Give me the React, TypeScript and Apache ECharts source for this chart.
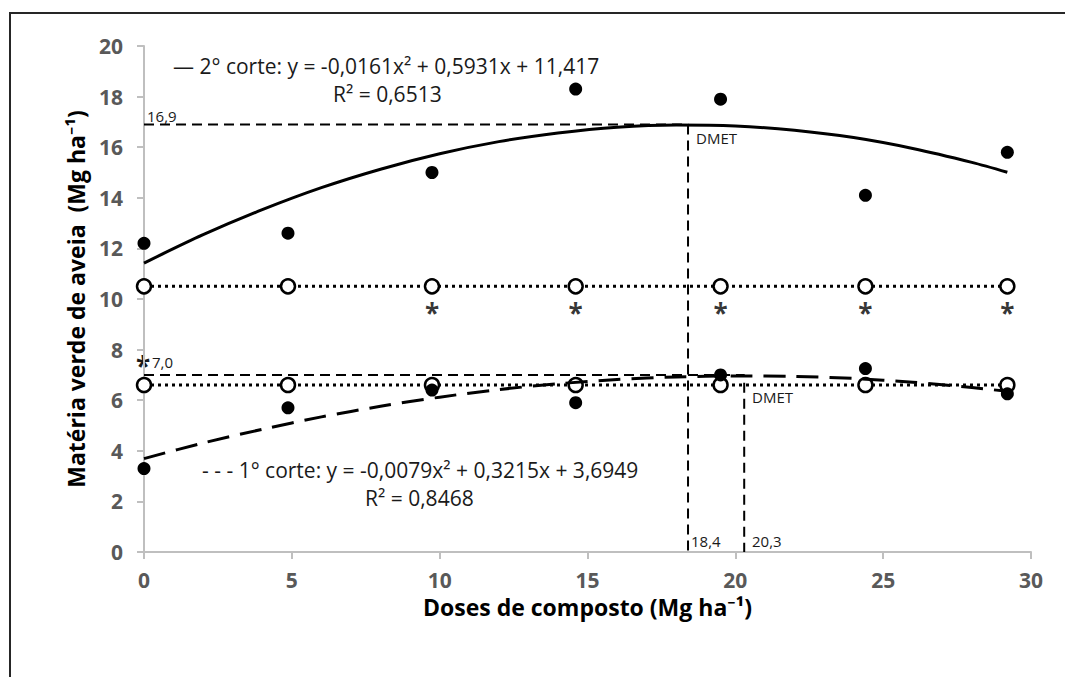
import React, { useEffect, useRef } from 'react';
import * as echarts from 'echarts';

const FONT = "'Open Sans', 'Noto Sans', sans-serif";

const doses = [0, 4.87, 9.74, 14.6, 19.5, 24.4, 29.2];
const corte2 = [12.2, 12.6, 15.0, 18.3, 17.9, 14.1, 15.8];
const corte1 = [3.3, 5.7, 6.4, 5.9, 7.0, 7.25, 6.25];
const mean2 = [10.5, 10.5, 10.5, 10.5, 10.5, 10.5, 10.5];
const mean1 = [6.6, 6.6, 6.6, 6.6, 6.6, 6.6, 6.6];

// fitted curves
const curveX = [0, 2, 4, 6, 8, 10, 12, 14, 16, 18, 20, 22, 24, 26, 28, 29.2];
const fit2 = [11.42, 12.54, 13.53, 14.4, 15.13, 15.74, 16.22, 16.56, 16.79, 16.88, 16.84, 16.67, 16.38, 15.95, 15.4, 15.01];
const fit1 = [3.69, 4.31, 4.85, 5.34, 5.76, 6.12, 6.42, 6.65, 6.82, 6.92, 6.96, 6.94, 6.86, 6.71, 6.5, 6.35];

const asteriskDoses = [9.74, 14.6, 19.5, 24.4, 29.2];
const asteriskLevel = [9.45, 9.45, 9.45, 9.45, 9.45];
const dmet2 = [18.4, 16.9];
const dmet1 = [20.3, 7.0];

const xTitle = 'Doses de composto (Mg ha⁻¹)';
const yTitle = 'Matéria verde de aveia  (Mg ha⁻¹)';
const eq2 = '— 2° corte: y = -0,0161x² + 0,5931x + 11,417';
const r2a = 'R² = 0,6513';
const eq1 = '- - - 1° corte: y = -0,0079x² + 0,3215x + 3,6949';
const r2b = 'R² = 0,8468';

export default function App() {
  const ref = useRef<HTMLDivElement>(null);
  useEffect(() => {
    const chart = echarts.init(ref.current!, null, { renderer: 'svg' });
    const pair = (xs: number[], ys: number[]) => xs.map((d, i) => [d, ys[i]]);
    const axisCommon = {
      axisLine: { show: true, lineStyle: { color: '#bfbfbf', width: 2 } },
      axisTick: { show: true, length: 7, lineStyle: { color: '#bfbfbf', width: 2 } },
      splitLine: { show: false },
    };
    const txt = (x: number, y: number, text: string, size: number, weight = 'normal') => ({
      type: 'text',
      x,
      y,
      silent: true,
      style: { text, fontSize: size, fontWeight: weight, fontFamily: FONT, fill: '#1a1a1a', align: 'left', verticalAlign: 'middle' },
    });
    const option: any = {
      animation: false,
      backgroundColor: '#ffffff',
      grid: { left: 144, right: 34, top: 46, bottom: 125 },
      xAxis: {
        type: 'value', min: 0, max: 30, interval: 5,
        name: xTitle, nameLocation: 'middle', nameGap: 41,
        nameTextStyle: { fontWeight: 'bold', fontSize: 23, lineHeight: 24, color: '#000', fontFamily: FONT },
        ...axisCommon,
        axisLabel: { margin: 18, fontSize: 21, lineHeight: 20, fontWeight: 'bold', color: '#595959', fontFamily: FONT },
      },
      yAxis: {
        type: 'value', min: 0, max: 20, interval: 2,
        name: yTitle, nameLocation: 'middle', nameGap: 57,
        nameTextStyle: { fontWeight: 'bold', fontSize: 23, color: '#000', fontFamily: FONT },
        ...axisCommon,
        axisLabel: { margin: 21, fontSize: 21, fontWeight: 'bold', color: '#595959', fontFamily: FONT },
      },
      series: [
        {
          type: 'line', data: [[0, dmet2[1]], [dmet2[0], dmet2[1]], [dmet2[0], 0]], symbol: 'none',
          lineStyle: { color: '#000', width: 2, type: [10, 6] }, z: 2,
        },
        {
          type: 'line', data: [[0, dmet1[1]], [dmet1[0], dmet1[1]], [dmet1[0], 0]], symbol: 'none',
          lineStyle: { color: '#000', width: 2, type: [10, 6] }, z: 2,
        },
        {
          type: 'line', data: pair(doses, mean2), symbol: 'circle', symbolSize: 14, showSymbol: true,
          itemStyle: { color: '#fff', borderColor: '#000', borderWidth: 2.5 },
          lineStyle: { color: '#000', width: 3, type: [3, 4] }, z: 3,
        },
        {
          type: 'line', data: pair(doses, mean1), symbol: 'circle', symbolSize: 14, showSymbol: true,
          itemStyle: { color: '#fff', borderColor: '#000', borderWidth: 2.5 },
          lineStyle: { color: '#000', width: 3, type: [3, 4] }, z: 3,
        },
        {
          type: 'line', data: pair(curveX, fit2), smooth: 0.3, symbol: 'none',
          lineStyle: { color: '#000', width: 3 }, z: 4,
        },
        {
          type: 'line', data: pair(curveX, fit1), smooth: 0.3, symbol: 'none',
          lineStyle: { color: '#000', width: 3, type: [22, 11] }, z: 4,
        },
        {
          type: 'scatter', data: pair(doses, corte2), symbol: 'circle', symbolSize: 13,
          itemStyle: { color: '#000', opacity: 1 }, z: 5,
        },
        {
          type: 'scatter', data: pair(doses, corte1), symbol: 'circle', symbolSize: 13,
          itemStyle: { color: '#000', opacity: 1 }, z: 5,
        },
        {
          type: 'scatter', data: pair(asteriskDoses, asteriskLevel), symbolSize: 2,
          itemStyle: { color: 'rgba(0,0,0,0)' },
          label: { show: true, formatter: '*', position: 'inside', fontSize: 26, fontWeight: 'bold', color: '#000', fontFamily: FONT },
          z: 5,
        },
      ],
      graphic: [
        {
          type: 'rect', silent: true, z: 100,
          shape: { x: 10, y: 13, width: 1100, height: 720 },
          style: { fill: 'none', stroke: '#262626', lineWidth: 2 },
        },
        txt(173, 66, eq2, 21),
        txt(333, 94, r2a, 21),
        txt(202, 470, eq1, 21),
        txt(365, 498, r2b, 21),
        txt(147, 116, '16,9', 15),
        txt(696, 138, 'DMET', 15),
        txt(752, 397, 'DMET', 15),
        txt(691, 541, '18,4', 15),
        txt(752, 541, '20,3', 15),
        txt(136, 366, '*', 26, 'bold'),
        txt(152, 362, '7,0', 15),
      ],
    };
    chart.setOption(option);
    return () => chart.dispose();
  }, []);
  return (
    <div
      ref={ref}
      style={{ position: 'absolute', left: 0, top: 0, width: 1065, height: 677, background: '#fff' }}
    />
  );
}
